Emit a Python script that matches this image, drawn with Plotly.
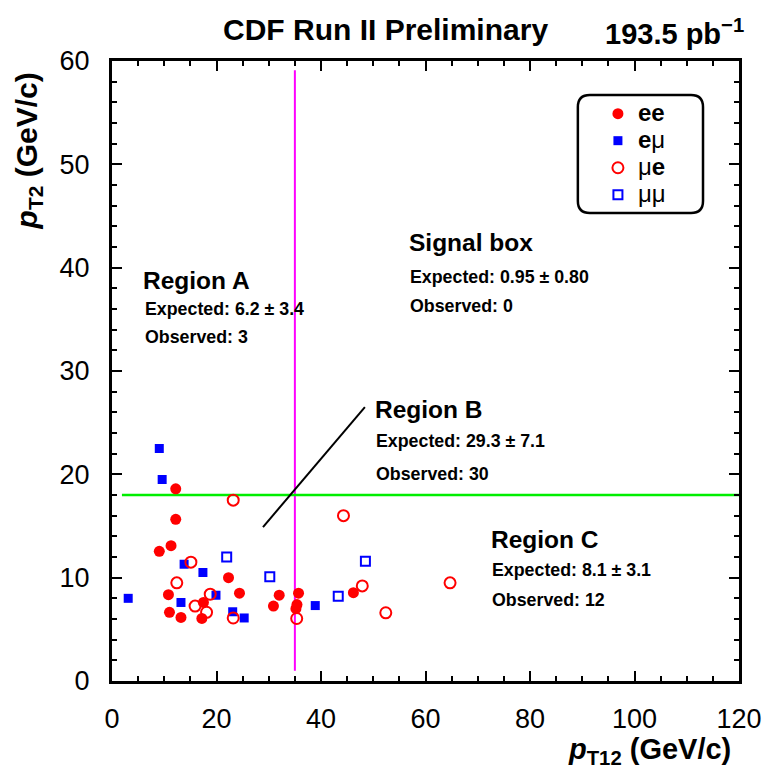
import plotly.graph_objects as go

# ---- data ----
ee_x = [12.2, 12.2, 11.3, 9.05, 22.3, 10.8, 24.4, 32.0, 35.7, 17.5, 30.9, 11.0, 13.2, 17.2, 35.2, 35.4, 46.2]
ee_y = [18.6, 15.65, 13.1, 12.55, 10.0, 8.35, 8.5, 8.3, 8.5, 7.6, 7.25, 6.65, 6.15, 6.05, 7.0, 7.4, 8.55]

emu_x = [9.05, 9.6, 13.8, 17.4, 3.1, 13.2, 19.9, 23.1, 25.3, 38.9]
emu_y = [22.5, 19.5, 11.3, 10.5, 8.0, 7.6, 8.3, 6.7, 6.1, 7.3]

mue_x = [23.2, 15.1, 12.4, 18.8, 15.9, 18.1, 23.2, 35.35, 44.3, 47.9, 64.7, 52.4]
mue_y = [17.5, 11.5, 9.5, 8.4, 7.25, 6.65, 6.1, 6.05, 16.0, 9.2, 9.5, 6.6]

mumu_x = [21.95, 30.2, 48.5, 43.3]
mumu_y = [12.0, 10.1, 11.6, 8.2]

series_names = ["<b>ee</b>", "<b>e</b>μ", "μ<b>e</b>", "μμ"]

x_range = [0, 120]
y_range = [0, 60]
pt1_cut = 35
pt2_cut = 18

region_text = [
    # (x, y, text, size)
    (5.55, 38.8, "Region A", 24.5),
    (5.9, 36.0, "Expected: 6.2 ± 3.4", 17.8),
    (5.9, 33.3, "Observed: 3", 17.8),
    (56.5, 42.4, "Signal box", 24.5),
    (56.7, 39.1, "Expected: 0.95 ± 0.80", 17.8),
    (56.7, 36.3, "Observed: 0", 17.8),
    (50.0, 26.3, "Region B", 24.5),
    (50.1, 23.2, "Expected: 29.3 ± 7.1", 17.8),
    (50.1, 20.0, "Observed: 30", 17.8),
    (72.2, 13.65, "Region C", 24.5),
    (72.4, 10.75, "Expected: 8.1 ± 3.1", 17.8),
    (72.4, 7.85, "Observed: 12", 17.8),
]

FONT = "Liberation Sans, Arial, Helvetica, sans-serif"

def legend_label(s):
    return f'<span style="font-size:24px">{s}</span>'

fig = go.Figure()
fig.add_trace(go.Scatter(x=ee_x, y=ee_y, mode="markers", name=legend_label(series_names[0]),
                         marker=dict(symbol="circle", size=11, color="#ff0000", line=dict(width=0))))
fig.add_trace(go.Scatter(x=emu_x, y=emu_y, mode="markers", name=legend_label(series_names[1]),
                         marker=dict(symbol="square", size=9, color="#0000ff", line=dict(width=0))))
fig.add_trace(go.Scatter(x=mue_x, y=mue_y, mode="markers", name=legend_label(series_names[2]),
                         marker=dict(symbol="circle-open", size=11, color="#ff0000", line=dict(width=2, color="#ff0000"))))
fig.add_trace(go.Scatter(x=mumu_x, y=mumu_y, mode="markers", name=legend_label(series_names[3]),
                         marker=dict(symbol="square-open", size=9, color="#0000ff", line=dict(width=2, color="#0000ff"))))

# cut lines
fig.add_shape(type="line", x0=pt1_cut, x1=pt1_cut, y0=1, y1=59.1, xref="x", yref="y",
              line=dict(color="#ff00ff", width=2), layer="below")
fig.add_shape(type="line", x0=1.9, x1=120, y0=pt2_cut, y1=pt2_cut, xref="x", yref="y",
              line=dict(color="#00ee00", width=2.5), layer="below")
# pointer line for region B
fig.add_shape(type="line", x0=28.9, y0=14.9, x1=48.4, y1=26.5, xref="x", yref="y",
              line=dict(color="black", width=2))

# rounded legend box (paper coords)
x0, x1, y0, y1 = 0.743, 0.9426, 0.7548, 0.945
rx, ry = 0.0191, 0.0194
path = (f"M {x0+rx},{y1} L {x1-rx},{y1} Q {x1},{y1} {x1},{y1-ry} "
        f"L {x1},{y0+ry} Q {x1},{y0} {x1-rx},{y0} L {x0+rx},{y0} "
        f"Q {x0},{y0} {x0},{y0+ry} L {x0},{y1-ry} Q {x0},{y1} {x0+rx},{y1} Z")
fig.add_shape(type="path", path=path, xref="paper", yref="paper",
              line=dict(color="black", width=2.5), fillcolor="white", layer="below")

for (tx, ty, txt, sz) in region_text:
    fig.add_annotation(x=tx, y=ty, xref="x", yref="y", text=f"<b>{txt}</b>", showarrow=False,
                       xanchor="left", yanchor="middle", font=dict(family=FONT, size=sz, color="black"))

# title texts
fig.add_annotation(x=0.436, y=1.05, xref="paper", yref="paper", text="<b>CDF Run II Preliminary</b>",
                   showarrow=False, xanchor="center", yanchor="middle", font=dict(family=FONT, size=30, color="black"))
fig.add_annotation(x=0.783, y=1.047, xref="paper", yref="paper", text="<b>193.5 pb<sup>−1</sup></b>",
                   showarrow=False, xanchor="left", yanchor="middle", font=dict(family=FONT, size=29, color="black"))

# axis titles
fig.add_annotation(x=0.99, y=-0.113, xref="paper", yref="paper",
                   text="<b><i>p</i><sub>T12</sub> (GeV/c)</b>", showarrow=False,
                   xanchor="right", yanchor="middle", font=dict(family=FONT, size=29, color="black"))
fig.add_annotation(x=-0.133, y=0.985, xref="paper", yref="paper",
                   text="<b><i>p</i><sub>T2</sub> (GeV/c)</b>", showarrow=False, textangle=-90,
                   xanchor="center", yanchor="top", font=dict(family=FONT, size=30, color="black"))

axis_common = dict(showline=True, linecolor="black", linewidth=3, mirror="allticks",
                   ticks="inside", ticklen=10, tickwidth=2, tickcolor="black",
                   showgrid=False, zeroline=False, automargin=False,
                   tickfont=dict(family=FONT, size=27, color="black"))
fig.update_xaxes(range=x_range, dtick=20, tick0=0, ticklabelstandoff=12,
                 minor=dict(dtick=5, ticks="inside", ticklen=5, tickwidth=2, tickcolor="black"),
                 **axis_common)
fig.update_yaxes(range=y_range, dtick=10, tick0=0, ticklabelstandoff=14,
                 minor=dict(dtick=2, ticks="inside", ticklen=5, tickwidth=2, tickcolor="black"),
                 **axis_common)

fig.update_layout(
    width=763, height=771,
    margin=dict(l=112, r=24, t=61, b=90),
    plot_bgcolor="white", paper_bgcolor="white",
    showlegend=True,
    legend=dict(x=0.775, y=0.945, xanchor="left", yanchor="top",
                font=dict(family=FONT, size=18.5, color="black"),
                bgcolor="rgba(0,0,0,0)", borderwidth=0, tracegroupgap=0, itemwidth=30),
)

fig.write_html("out.html")
